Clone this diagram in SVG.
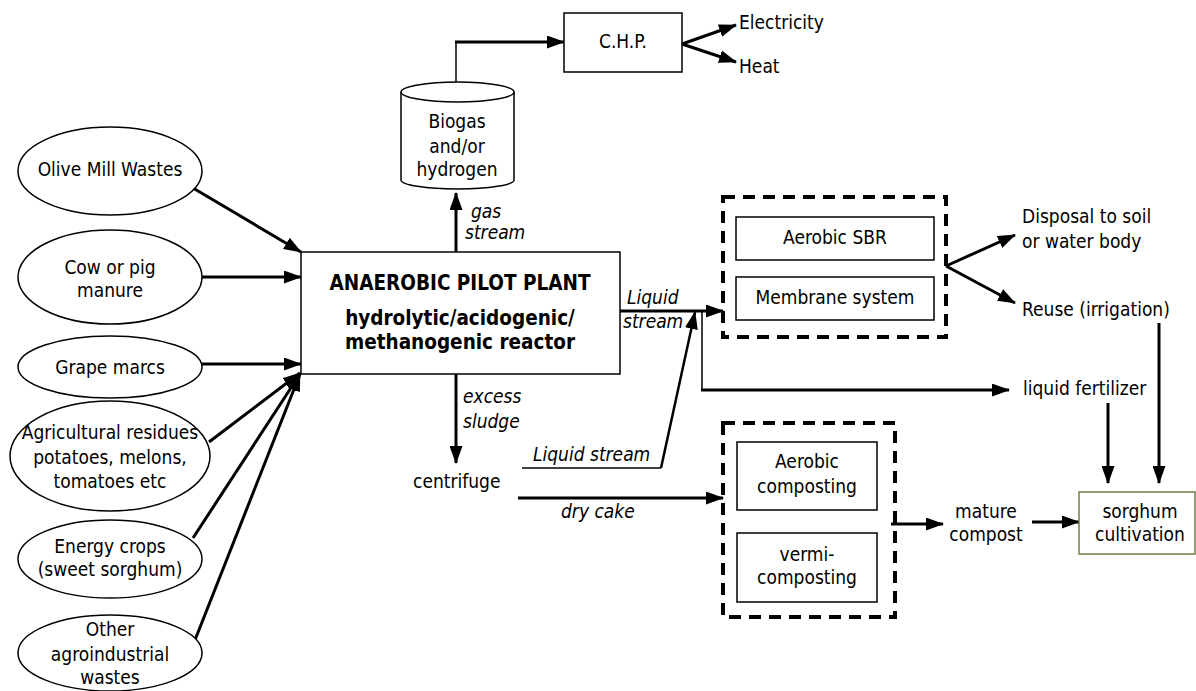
<svg xmlns="http://www.w3.org/2000/svg" width="1196" height="691" viewBox="0 0 1196 691">
<defs>
<style>
text{font-family:"DejaVu Sans Condensed","DejaVu Sans",sans-serif;font-size:19px;fill:#000}
.c{text-anchor:middle}
.i{font-style:italic}
.b{font-weight:bold;font-size:20.5px}
.node{fill:#fff;stroke:#000;stroke-width:1.5}
.dash{fill:none;stroke:#000;stroke-width:4;stroke-dasharray:12 8}
.thick{fill:none;stroke:#000;stroke-width:3}
.thin{fill:none;stroke:#000;stroke-width:1.5}
</style>
<marker id="ah" markerWidth="18" markerHeight="13" refX="17" refY="6.5" orient="auto" markerUnits="userSpaceOnUse">
<path d="M0,0 L18,6.5 L0,13 Z" fill="#000"/>
</marker>
</defs>
<rect width="1196" height="691" fill="#fff"/>

<g id="connectors">
<line class="thick" x1="193" y1="188" x2="301" y2="252" marker-end="url(#ah)"/>
<line class="thick" x1="202" y1="277" x2="301" y2="277" marker-end="url(#ah)"/>
<line class="thick" x1="202" y1="364" x2="301" y2="364" marker-end="url(#ah)"/>
<line class="thick" x1="209" y1="442" x2="300" y2="373" marker-end="url(#ah)"/>
<line class="thick" x1="193" y1="538" x2="300" y2="374" marker-end="url(#ah)"/>
<line class="thick" x1="195" y1="640" x2="300" y2="374" marker-end="url(#ah)"/>
<line class="thick" x1="456" y1="252" x2="456" y2="193" marker-end="url(#ah)"/>
<polyline class="thin" points="456,82 456,42"/>
<line class="thick" x1="455" y1="42" x2="564" y2="42" marker-end="url(#ah)"/>
<line class="thick" x1="682" y1="44" x2="736" y2="25" marker-end="url(#ah)"/>
<line class="thick" x1="682" y1="44" x2="736" y2="62" marker-end="url(#ah)"/>
<line class="thick" x1="620" y1="311" x2="723" y2="311" marker-end="url(#ah)"/>
<polyline class="thin" points="522,468 661,468"/>
<line style="fill:none;stroke:#000;stroke-width:2.5" x1="661" y1="468" x2="695" y2="312" marker-end="url(#ah)"/>
<polyline class="thin" points="702,311 702,390"/>
<line class="thick" x1="701" y1="390" x2="1009" y2="390" marker-end="url(#ah)"/>
<line class="thick" x1="946" y1="266" x2="1015" y2="235" marker-end="url(#ah)"/>
<line class="thick" x1="946" y1="266" x2="1015" y2="303" marker-end="url(#ah)"/>
<line class="thick" x1="456" y1="374" x2="456" y2="463" marker-end="url(#ah)"/>
<line class="thick" x1="518" y1="498" x2="723" y2="498" marker-end="url(#ah)"/>
<line class="thick" x1="891" y1="524" x2="943" y2="524" marker-end="url(#ah)"/>
<line class="thick" x1="1032" y1="522" x2="1079" y2="522" marker-end="url(#ah)"/>
<line class="thick" x1="1108" y1="403" x2="1108" y2="483" marker-end="url(#ah)"/>
<line class="thick" x1="1159" y1="323" x2="1159" y2="483" marker-end="url(#ah)"/>
</g>

<g id="labels">
<text class="i" x="471" y="218">gas</text>
<text class="i" x="465" y="239">stream</text>
<text class="i" x="627" y="304">Liquid</text>
<text class="i" x="623" y="328">stream</text>
<text class="i" x="463" y="403">excess</text>
<text class="i" x="463" y="428">sludge</text>
<text class="i" x="533" y="461">Liquid stream</text>
<text class="i" x="561" y="518">dry cake</text>
</g>

<g id="n-olive">
<ellipse class="node" cx="110" cy="171" rx="92" ry="44"/>
<text class="c" x="110" y="176">Olive Mill Wastes</text>
</g>
<g id="n-cow">
<ellipse class="node" cx="110" cy="277" rx="92" ry="47"/>
<text class="c" x="110" y="274">Cow or pig</text>
<text class="c" x="110" y="297">manure</text>
</g>
<g id="n-grape">
<ellipse class="node" cx="110" cy="367" rx="92" ry="31"/>
<text class="c" x="110" y="374">Grape marcs</text>
</g>
<g id="n-agri">
<ellipse class="node" cx="110" cy="456" rx="100" ry="55"/>
<text class="c" x="110" y="439">Agricultural residues</text>
<text class="c" x="110" y="464">potatoes, melons,</text>
<text class="c" x="110" y="488">tomatoes etc</text>
</g>
<g id="n-energy">
<ellipse class="node" cx="110" cy="559" rx="92" ry="39"/>
<text class="c" x="110" y="553">Energy crops</text>
<text class="c" x="110" y="576">(sweet sorghum)</text>
</g>
<g id="n-other">
<ellipse class="node" cx="110" cy="653" rx="92" ry="38"/>
<text class="c" x="110" y="636">Other</text>
<text class="c" x="110" y="661">agroindustrial</text>
<text class="c" x="110" y="684">wastes</text>
</g>

<g id="n-plant">
<rect class="node" x="301" y="252" width="319" height="122"/>
<text class="c b" x="460" y="290">ANAEROBIC PILOT PLANT</text>
<text class="c b" x="460" y="325">hydrolytic/acidogenic/</text>
<text class="c b" x="460" y="349">methanogenic reactor</text>
</g>

<g id="n-biogas">
<path class="node" d="M401,92 L401,180 A56.5,9 0 0 0 514,180 L514,92"/>
<ellipse class="node" cx="457.5" cy="92" rx="56.5" ry="10"/>
<text class="c" x="457" y="128">Biogas</text>
<text class="c" x="457" y="153">and/or</text>
<text class="c" x="457" y="176">hydrogen</text>
</g>

<g id="n-chp">
<rect class="node" x="564" y="13" width="118" height="59"/>
<text class="c" x="623" y="48">C.H.P.</text>
</g>
<g id="n-electricity"><text x="739" y="29">Electricity</text></g>
<g id="n-heat"><text x="739" y="73">Heat</text></g>

<g id="n-treatment">
<rect class="dash" x="723" y="197" width="223" height="140"/>
<rect class="node" x="736" y="217" width="198" height="43"/>
<text class="c" x="835" y="244">Aerobic SBR</text>
<rect class="node" x="736" y="277" width="198" height="43"/>
<text class="c" x="835" y="304">Membrane system</text>
</g>

<g id="n-disposal">
<text x="1022" y="223">Disposal to soil</text>
<text x="1022" y="248">or water body</text>
</g>
<g id="n-reuse"><text x="1022" y="316">Reuse (irrigation)</text></g>
<g id="n-fert"><text x="1023" y="395">liquid fertilizer</text></g>
<g id="n-centrifuge"><text x="413" y="488">centrifuge</text></g>

<g id="n-composting">
<rect class="dash" x="723" y="423" width="172" height="194"/>
<rect class="node" x="737" y="442" width="140" height="68"/>
<text class="c" x="807" y="468">Aerobic</text>
<text class="c" x="807" y="493">composting</text>
<rect class="node" x="737" y="533" width="140" height="69"/>
<text class="c" x="807" y="561">vermi-</text>
<text class="c" x="807" y="584">composting</text>
</g>

<g id="n-compost">
<text class="c" x="986" y="518">mature</text>
<text class="c" x="986" y="541">compost</text>
</g>

<g id="n-sorghum">
<rect x="1079" y="492" width="116" height="62" fill="#fff" stroke="#6f7f45" stroke-width="1.5"/>
<text class="c" x="1140" y="518">sorghum</text>
<text class="c" x="1140" y="541">cultivation</text>
</g>
</svg>
